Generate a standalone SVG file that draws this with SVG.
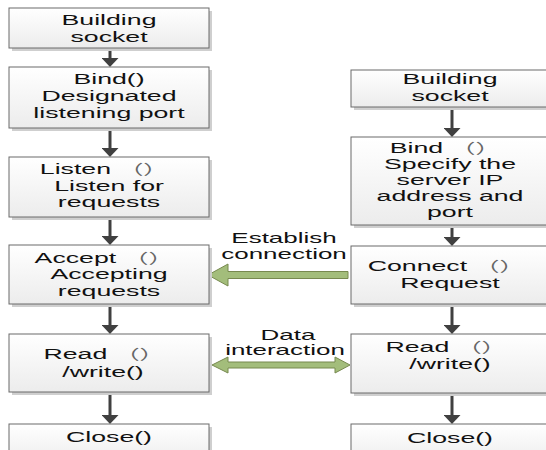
<svg xmlns="http://www.w3.org/2000/svg" width="546" height="450" viewBox="0 0 546 450">
<style>
.bx{fill:url(#g);stroke:#6a6a6a;stroke-width:1}
.sh{fill:#cfcfcf}
.t{font-family:"Liberation Sans",Arial,"Noto Sans CJK SC",sans-serif;font-size:15px;fill:#111;text-anchor:middle}
.p{font-size:14px;fill:#666}
.c{stroke:#404040;stroke-width:3;fill:none;marker-end:url(#ah)}
.ga{fill:#a3bd7b;stroke:#77894f;stroke-width:1}
</style>
<defs>
<linearGradient id="g" x1="0" y1="0" x2="0" y2="1">
<stop offset="0" stop-color="#ffffff"/>
<stop offset="1" stop-color="#ececec"/>
</linearGradient>
<marker id="ah" markerUnits="userSpaceOnUse" markerWidth="9" markerHeight="17" viewBox="0 0 9 17" refX="3" refY="8.5" orient="auto">
<path d="M0,0 L9,8.5 L0,17 z" fill="#404040"/>
</marker>
</defs>
<rect width="546" height="450" fill="#fff"/>

<g id="connectors">
<line class="c" x1="110" y1="48" x2="110" y2="61"/>
<line class="c" x1="110" y1="128" x2="110" y2="151"/>
<line class="c" x1="110" y1="217" x2="110" y2="239"/>
<line class="c" x1="110" y1="304" x2="110" y2="328"/>
<line class="c" x1="110" y1="392" x2="110" y2="418"/>
<line class="c" x1="452" y1="107" x2="452" y2="131"/>
<line class="c" x1="452" y1="225" x2="452" y2="240"/>
<line class="c" x1="452" y1="304" x2="452" y2="328"/>
<line class="c" x1="452" y1="393" x2="452" y2="418"/>
<polygon class="ga" points="208,275 228,264 228,271.5 348,271.5 348,278.5 228,278.5 228,286"/>
<polygon class="ga" points="212,365 228,357 228,362 335,362 335,357 350,365 335,373 335,368 228,368 228,373"/>
<text class="t" transform="translate(284,243) scale(1.73,1)">Establish</text>
<text class="t" transform="translate(284,259) scale(1.73,1)">connection</text>
<text class="t" transform="translate(288,340) scale(1.73,1)">Data</text>
<text class="t" transform="translate(285,355) scale(1.73,1)">interaction</text>
</g>

<g id="s-socket">
<rect class="sh" x="12" y="11" width="200" height="40"/>
<rect class="bx" x="9" y="8" width="200" height="40"/>
<text class="t" transform="translate(109,25) scale(1.78,1)">Building</text>
<text class="t" transform="translate(109,41.5) scale(1.78,1)">socket</text>
</g>
<g id="s-bind">
<rect class="sh" x="12" y="70" width="200" height="61"/>
<rect class="bx" x="9" y="67" width="200" height="61"/>
<text class="t" transform="translate(109,84) scale(1.78,1)">Bind()</text>
<text class="t" transform="translate(109,101) scale(1.78,1)">Designated</text>
<text class="t" transform="translate(109,118) scale(1.78,1)">listening port</text>
</g>
<g id="s-listen">
<rect class="sh" x="12" y="160" width="200" height="60"/>
<rect class="bx" x="9" y="157" width="200" height="60"/>
<text class="t" transform="translate(104,174) scale(1.78,1)">Listen <tspan class="p">（）</tspan></text>
<text class="t" transform="translate(109,191) scale(1.78,1)">Listen for</text>
<text class="t" transform="translate(109,207) scale(1.78,1)">requests</text>
</g>
<g id="s-accept">
<rect class="sh" x="12" y="248" width="200" height="59"/>
<rect class="bx" x="9" y="245" width="200" height="59"/>
<text class="t" transform="translate(104,263) scale(1.78,1)">Accept <tspan class="p">（）</tspan></text>
<text class="t" transform="translate(109,279) scale(1.78,1)">Accepting</text>
<text class="t" transform="translate(109,296) scale(1.78,1)">requests</text>
</g>
<g id="s-rw">
<rect class="sh" x="12" y="337" width="200" height="58"/>
<rect class="bx" x="9" y="334" width="200" height="58"/>
<text class="t" transform="translate(104,359) scale(1.78,1)">Read <tspan class="p">（）</tspan></text>
<text class="t" transform="translate(103,377) scale(1.78,1)">/write()</text>
</g>
<g id="s-close">
<rect class="sh" x="12" y="427" width="200" height="40"/>
<rect class="bx" x="9" y="424" width="200" height="40"/>
<text class="t" transform="translate(109,442) scale(1.78,1)">Close()</text>
</g>

<g id="c-socket">
<rect class="sh" x="354" y="73" width="200" height="37"/>
<rect class="bx" x="351" y="70" width="200" height="37"/>
<text class="t" transform="translate(450,84) scale(1.78,1)">Building</text>
<text class="t" transform="translate(450,100.5) scale(1.78,1)">socket</text>
</g>
<g id="c-bind">
<rect class="sh" x="354" y="140" width="200" height="88"/>
<rect class="bx" x="351" y="137" width="200" height="88"/>
<text class="t" transform="translate(445,153) scale(1.78,1)">Bind <tspan class="p">（）</tspan></text>
<text class="t" transform="translate(450,169) scale(1.78,1)">Specify the</text>
<text class="t" transform="translate(450,185) scale(1.78,1)">server IP</text>
<text class="t" transform="translate(450,201) scale(1.78,1)">address and</text>
<text class="t" transform="translate(450,217) scale(1.78,1)">port</text>
</g>
<g id="c-connect">
<rect class="sh" x="354" y="249" width="200" height="58"/>
<rect class="bx" x="351" y="246" width="200" height="58"/>
<text class="t" transform="translate(446,271) scale(1.78,1)">Connect <tspan class="p">（）</tspan></text>
<text class="t" transform="translate(450,288) scale(1.78,1)">Request</text>
</g>
<g id="c-rw">
<rect class="sh" x="354" y="337" width="200" height="59"/>
<rect class="bx" x="351" y="334" width="200" height="59"/>
<text class="t" transform="translate(446,352) scale(1.78,1)">Read <tspan class="p">（）</tspan></text>
<text class="t" transform="translate(450,369) scale(1.78,1)">/write()</text>
</g>
<g id="c-close">
<rect class="sh" x="354" y="427" width="200" height="40"/>
<rect class="bx" x="351" y="424" width="200" height="40"/>
<text class="t" transform="translate(450,443) scale(1.78,1)">Close()</text>
</g>
</svg>
